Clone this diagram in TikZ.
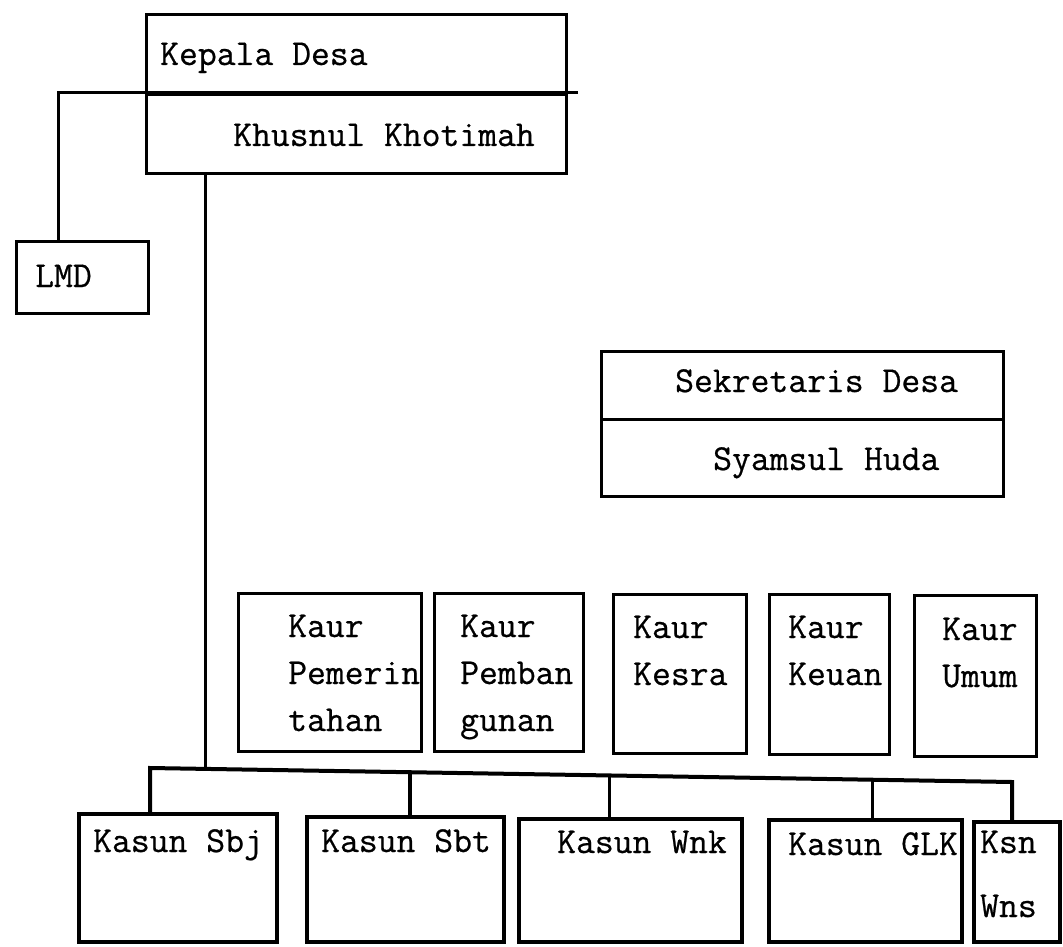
\documentclass[tikz,border=0pt]{standalone}
\usepackage{fontspec}
\setmonofont{Latin Modern Mono}[FakeBold=0.6]
\begin{document}
\begin{tikzpicture}[x=1pt,y=-1pt,
  box/.style={draw, line width=3pt, rectangle, inner sep=0pt, anchor=north west},
  kbox/.style={box, line width=3.6pt},
  txt/.style={anchor=base west, inner sep=0pt, font=\ttfamily\fontsize{36.6}{47}\selectfont, align=left},
  conn/.style={line width=3pt},
  bconn/.style={line width=4pt}]
\useasboundingbox[fill=white] (0,0) rectangle (1063,947);

% Kepala Desa
\node[box, minimum width=420pt, minimum height=80pt] (kd) at (145,13) {};
\node[box, minimum width=420pt, minimum height=79pt] (kdn) at (145,93) {};
\node[txt] (kdt) at (160,65) {Kepala Desa};
\node[txt] (kdnt) at (233,146) {Khusnul Khotimah};

% LMD
\node[box, minimum width=132pt, minimum height=72pt] (lmd) at (15,240) {};
\node[txt] (lmdt) at (35,287) {LMD};

% Sekretaris Desa
\node[box, minimum width=402pt, minimum height=68pt] (sek) at (600,350) {};
\node[box, minimum width=402pt, minimum height=77pt] (sya) at (600,418) {};
\node[txt] (sekt) at (675,392) {Sekretaris Desa};
\node[txt] (syat) at (713,470) {Syamsul Huda};

% Kaur (base anchor = baseline of last line)
\node[box, minimum width=183pt, minimum height=158pt] (k1) at (237,592) {};
\node[box, minimum width=149pt, minimum height=158pt] (k2) at (433,592) {};
\node[box, minimum width=133pt, minimum height=159pt] (k3) at (612,593) {};
\node[box, minimum width=120pt, minimum height=160pt] (k4) at (768,593) {};
\node[box, minimum width=122pt, minimum height=161pt] (k5) at (913,594) {};
\node[txt] (k1t) at (288,731) {Kaur\\Pemerin\\tahan};
\node[txt] (k2t) at (460,731) {Kaur\\Pemban\\gunan};
\node[txt] (k3t) at (633,685) {Kaur\\Kesra};
\node[txt] (k4t) at (788,685) {Kaur\\Keuan};
\node[txt] (k5t) at (942,687) {Kaur\\Umum};

% Kasun
\node[kbox, minimum width=198pt, minimum height=128pt] (s1) at (77,812) {};
\node[kbox, minimum width=197pt, minimum height=125pt] (s2) at (305,815) {};
\node[kbox, minimum width=223pt, minimum height=123pt] (s3) at (517,817) {};
\node[kbox, minimum width=193pt, minimum height=122pt] (s4) at (767,818) {};
\node[kbox, minimum width=86pt, minimum height=120pt] (s5) at (972,820) {};
\node[txt] (s1t) at (93,852) {Kasun Sbj};
\node[txt] (s2t) at (321,852) {Kasun Sbt};
\node[txt] (s3t) at (557,853) {Kasun Wnk};
\node[txt] (s4t) at (788,855) {Kasun GLK};
\node[txt] (s5t) at (980,917) {Ksn\\[17pt]Wns};

% connectors
\draw[conn] ([xshift=10pt]kdn.north east) -- (kdn.north west) -| ([xshift=43pt]lmd.north west);
\coordinate (kj) at ([xshift=60pt]kdn.south west);
\coordinate (busL) at (150,768);
\coordinate (busR) at (1012,782);
\coordinate (busK) at (205,769);
\path (busL) -- (busR)
  coordinate[pos=0.3016] (b2)
  coordinate[pos=0.5336] (b3)
  coordinate[pos=0.8387] (b4);
\draw[conn] (kj) -- (busK);
\draw[bconn] (busL |- s1.north) -- (busL) -- (busR) -- (busR |- s5.north);
\draw[bconn] (b2) -- (b2 |- s2.north);
\draw[conn] (b3) -- (b3 |- s3.north);
\draw[conn] (b4) -- (b4 |- s4.north);
\end{tikzpicture}
\end{document}
